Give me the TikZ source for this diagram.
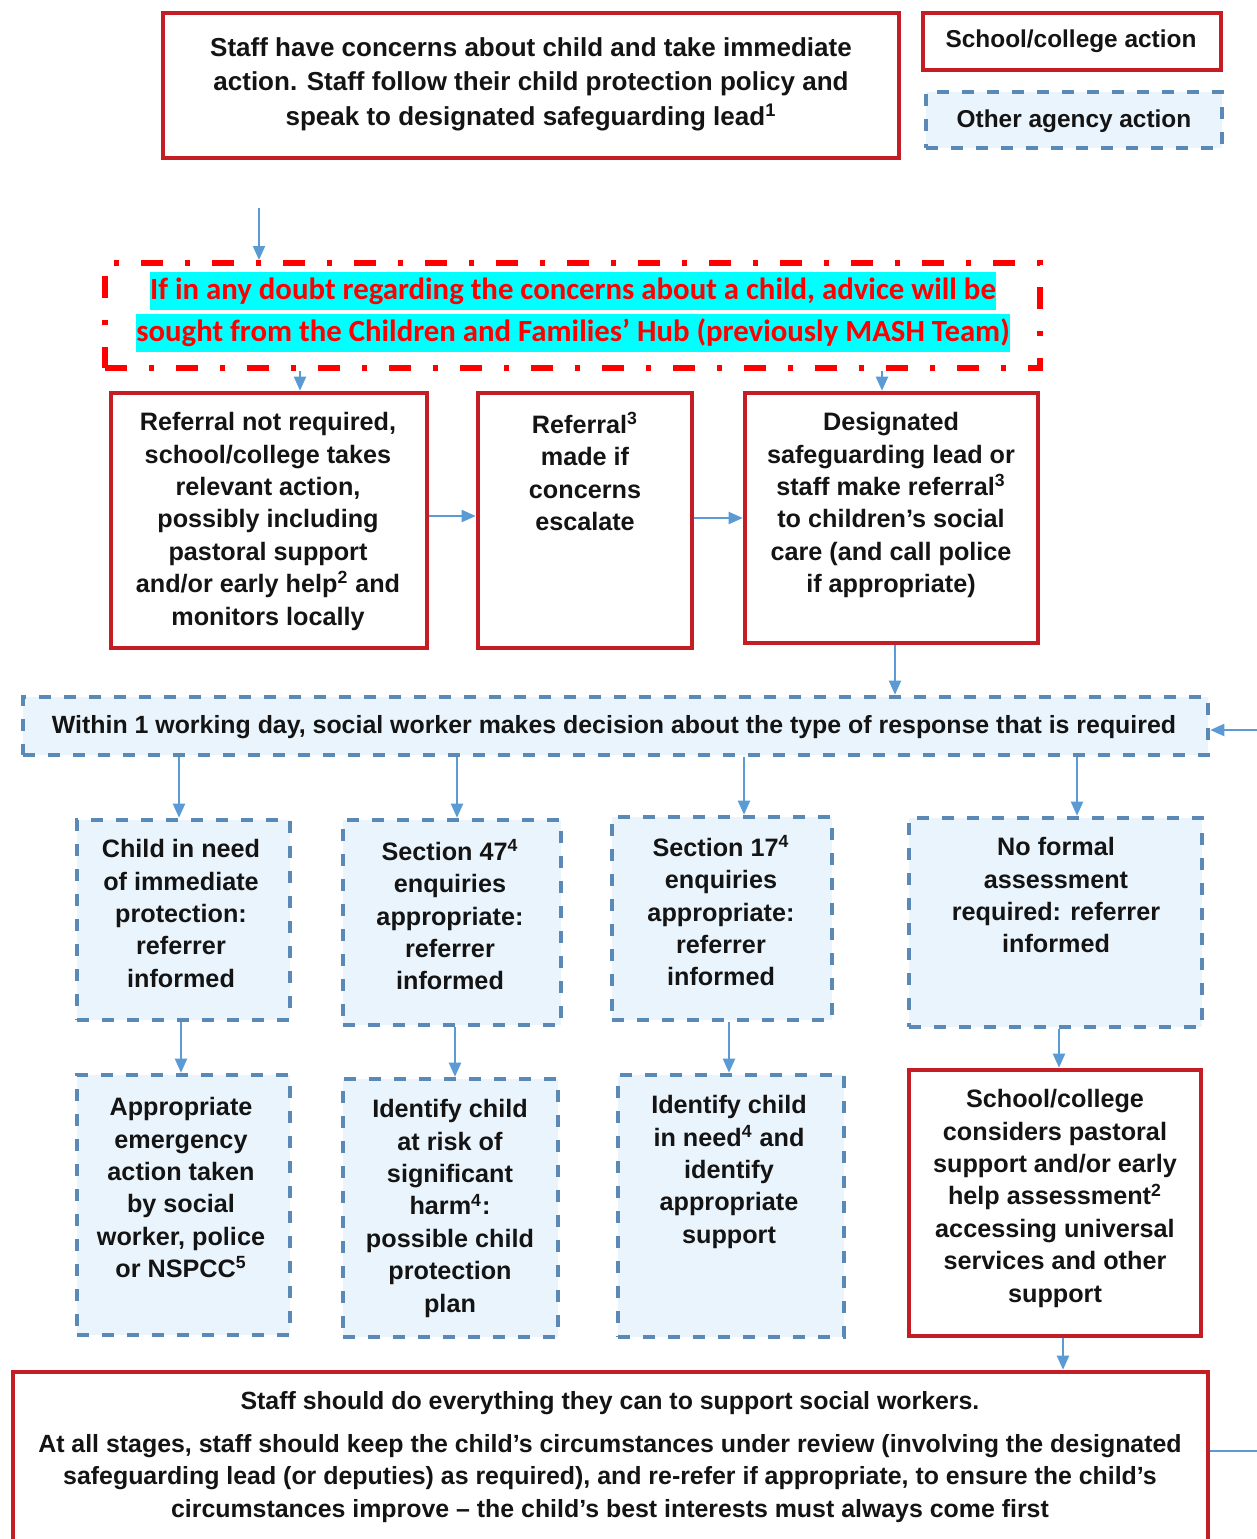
\documentclass[tikz,border=0pt]{standalone}
\usepackage{fontspec}
\setmainfont{Liberation Sans}
\newfontfamily\calib{Carlito}
\usetikzlibrary{arrows.meta}
\definecolor{sred}{HTML}{C41E24}
\definecolor{sblue}{HTML}{5B89B6}
\definecolor{sfill}{HTML}{EAF4FC}
\definecolor{sarrow}{HTML}{5B9BD5}
\definecolor{hlcyan}{RGB}{0,255,255}
\definecolor{hlred}{RGB}{255,0,0}
\tikzset{
  redbox/.style={draw=sred, line width=2.3pt, fill=white, inner sep=0pt},
  bluebox/.style={draw=sblue, line width=2.3pt, fill=sfill, dash pattern=on 6pt off 6.5pt, inner sep=0pt},
  doubtbox/.style={draw=hlred, line width=3pt, dash pattern=on 11pt off 11pt on 2.5pt off 11pt, inner sep=0pt},
  txt/.style={font=\bfseries\fontsize{12.6}{16.2}\selectfont, align=center, inner sep=0pt, text=black!92},
  toptxt/.style={font=\bfseries\fontsize{13}{17.25}\selectfont, align=center, inner sep=0pt, text=black!92},
  hl/.style={fill=hlcyan, text=hlred, font=\calib\bfseries\fontsize{15.4}{18}\selectfont, inner xsep=0pt, inner ysep=0pt, minimum height=19pt},
  arr/.style={draw=sarrow, line width=1pt, -{Triangle[width=6pt,length=7pt]}}
}
\begin{document}
\begin{tikzpicture}[x=0.5pt,y=-0.5pt]
\useasboundingbox (0,0) rectangle (1257,1539);
\clip (0,0) rectangle (1257,1539);
\fill[white] (0,0) rectangle (1257,1539);

% legend and top box
\node[redbox, minimum width=368pt, minimum height=72.5pt] (top) at (531,85.5) {};
\node[toptxt, anchor=north] (toptext) at (531,37) {Staff have concerns about child and take immediate\\action. Staff follow their child protection policy and\\speak to designated safeguarding lead\textsuperscript{1}};
\node[redbox, minimum width=149pt, minimum height=28.5pt] (school) at (1072,41.5) {};
\node[txt, font=\bfseries\fontsize{12.2}{15}\selectfont] (schooltxt) at (1071,41) {School/college action};
\node[bluebox, minimum width=148pt, minimum height=28pt] (other) at (1074,120) {};
\node[txt, font=\bfseries\fontsize{12.2}{15}\selectfont] (othertxt) at (1074,121) {Other agency action};

% doubt box
\node[doubtbox, minimum width=467.5pt, minimum height=52.5pt] (doubt) at (572.5,315.5) {};
\node[hl] (h1) at (573,291) {If in any doubt regarding the concerns about a child, advice will be};
\node[hl] (h2) at (573,333) {sought from the Children and Families’ Hub (previously MASH Team)};

% row of red boxes
\node[redbox, minimum width=158pt, minimum height=127.5pt] (b1) at (269,520.5) {};
\node[txt, anchor=north] (b1t) at (268,412) {Referral not required,\\school/college takes\\relevant action,\\possibly including\\pastoral support\\and/or early help\textsuperscript{2} and\\monitors locally};
\node[redbox, minimum width=107pt, minimum height=127.5pt] (b2) at (585,520.5) {};
\node[txt, anchor=north] (b2t) at (585,412) {Referral\textsuperscript{3}\\made if\\concerns\\escalate};
\node[redbox, minimum width=146.5pt, minimum height=125pt] (b3) at (891.5,518) {};
\node[txt, anchor=north] (b3t) at (891,412) {Designated\\safeguarding lead or\\staff make referral\textsuperscript{3}\\to children’s social\\care (and call police\\if appropriate)};

% within box
\node[bluebox, minimum width=592.5pt, minimum height=29pt] (within) at (615.5,726) {};
\node[txt, font=\bfseries\fontsize{12.45}{16}\selectfont] (withint) at (614,727) {Within 1 working day, social worker makes decision about the type of response that is required};

% row 1 blue boxes
\node[bluebox, minimum width=106.5pt, minimum height=100pt] (A) at (183.5,920) {};
\node[txt, anchor=north] (At) at (181,839) {Child in need\\of immediate\\protection:\\referrer\\informed};
\node[bluebox, minimum width=109pt, minimum height=102.5pt] (B) at (452,922.5) {};
\node[txt, anchor=north] (Bt) at (450,839) {Section 47\textsuperscript{4}\\enquiries\\appropriate:\\referrer\\informed};
\node[bluebox, minimum width=110pt, minimum height=101.5pt] (C) at (722,918.5) {};
\node[txt, anchor=north] (Ct) at (721,835) {Section 17\textsuperscript{4}\\enquiries\\appropriate:\\referrer\\informed};
\node[bluebox, minimum width=146.5pt, minimum height=104.5pt] (D) at (1055.5,922.5) {};
\node[txt, anchor=north] (Dt) at (1056,837) {No formal\\assessment\\required: referrer\\informed};

% row 2
\node[bluebox, minimum width=106.5pt, minimum height=130pt] (A2) at (183.5,1205) {};
\node[txt, anchor=north] (A2t) at (181,1097) {Appropriate\\emergency\\action taken\\by social\\worker, police\\or NSPCC\textsuperscript{5}};
\node[bluebox, minimum width=107.5pt, minimum height=129pt] (B2) at (450.5,1208) {};
\node[txt, anchor=north] (B2t) at (450,1099) {Identify child\\at risk of\\significant\\harm\textsuperscript{4}:\\possible child\\protection\\plan};
\node[bluebox, minimum width=113pt, minimum height=131pt] (C2) at (731,1206) {};
\node[txt, anchor=north] (C2t) at (729,1095) {Identify child\\in need\textsuperscript{4} and\\identify\\appropriate\\support};
\node[redbox, minimum width=146pt, minimum height=133pt] (D2) at (1055,1203) {};
\node[txt, anchor=north] (D2t) at (1055,1089) {School/college\\considers pastoral\\support and/or early\\help assessment\textsuperscript{2}\\accessing universal\\services and other\\support};

% bottom box
\node[redbox, minimum width=597.5pt, minimum height=94pt] (bottom) at (610.5,1466) {};
\node[txt, anchor=north, font=\bfseries\fontsize{12.45}{16.2}\selectfont] (bt1) at (610,1391) {Staff should do everything they can to support social workers.};
\node[txt, anchor=north, font=\bfseries\fontsize{12.45}{16.2}\selectfont] (bt2) at (610,1434) {At all stages, staff should keep the child’s circumstances under review (involving the designated\\safeguarding lead (or deputies) as required), and re-refer if appropriate, to ensure the child’s\\circumstances improve – the child’s best interests must always come first};

% connectors
\coordinate (s1) at (259,208);
\draw[arr] (s1) -- (s1 |- doubt.north);
\draw[arr] ([xshift=15.5pt]b1.north |- doubt.south) -- ([xshift=15.5pt]b1.north);
\draw[arr] ([xshift=-4.75pt]b3.north |- doubt.south) -- ([xshift=-4.75pt]b3.north);
\draw[arr] ([yshift=2.25pt]b1.east) -- ([yshift=2.25pt]b1.east -| b2.west);
\draw[arr] ([yshift=1.25pt]b2.east) -- ([yshift=1.25pt]b2.east -| b3.west);
\draw[arr] ([xshift=1.75pt]b3.south) -- ([xshift=1.75pt]b3.south |- within.north);
\draw[arr] ([xshift=-2.25pt]A.north |- within.south) -- ([xshift=-2.25pt]A.north);
\draw[arr] ([xshift=2.5pt]B.north |- within.south) -- ([xshift=2.5pt]B.north);
\draw[arr] ([xshift=11pt]C.north |- within.south) -- ([xshift=11pt]C.north);
\draw[arr] ([xshift=10.75pt]D.north |- within.south) -- ([xshift=10.75pt]D.north);
\draw[arr] ([xshift=-1.25pt]A.south) -- ([xshift=-1.25pt]A.south |- A2.north);
\draw[arr] ([xshift=1.5pt]B.south) -- ([xshift=1.5pt]B.south |- B2.north);
\draw[arr] ([xshift=3.5pt]C.south) -- ([xshift=3.5pt]C.south |- C2.north);
\draw[arr] ([xshift=1.75pt]D.south) -- ([xshift=1.75pt]D.south |- D2.north);
\draw[arr] ([xshift=4pt]D2.south) -- ([xshift=4pt]D2.south |- bottom.north);
\coordinate (fb1) at (1280,1451);
\coordinate (fb2) at (1280,730);
\draw[arr] ([yshift=7.5pt]bottom.east) -- ([yshift=7.5pt]bottom.east -| fb1) -- (fb2) -- (fb2 -| within.east);
\end{tikzpicture}
\end{document}
